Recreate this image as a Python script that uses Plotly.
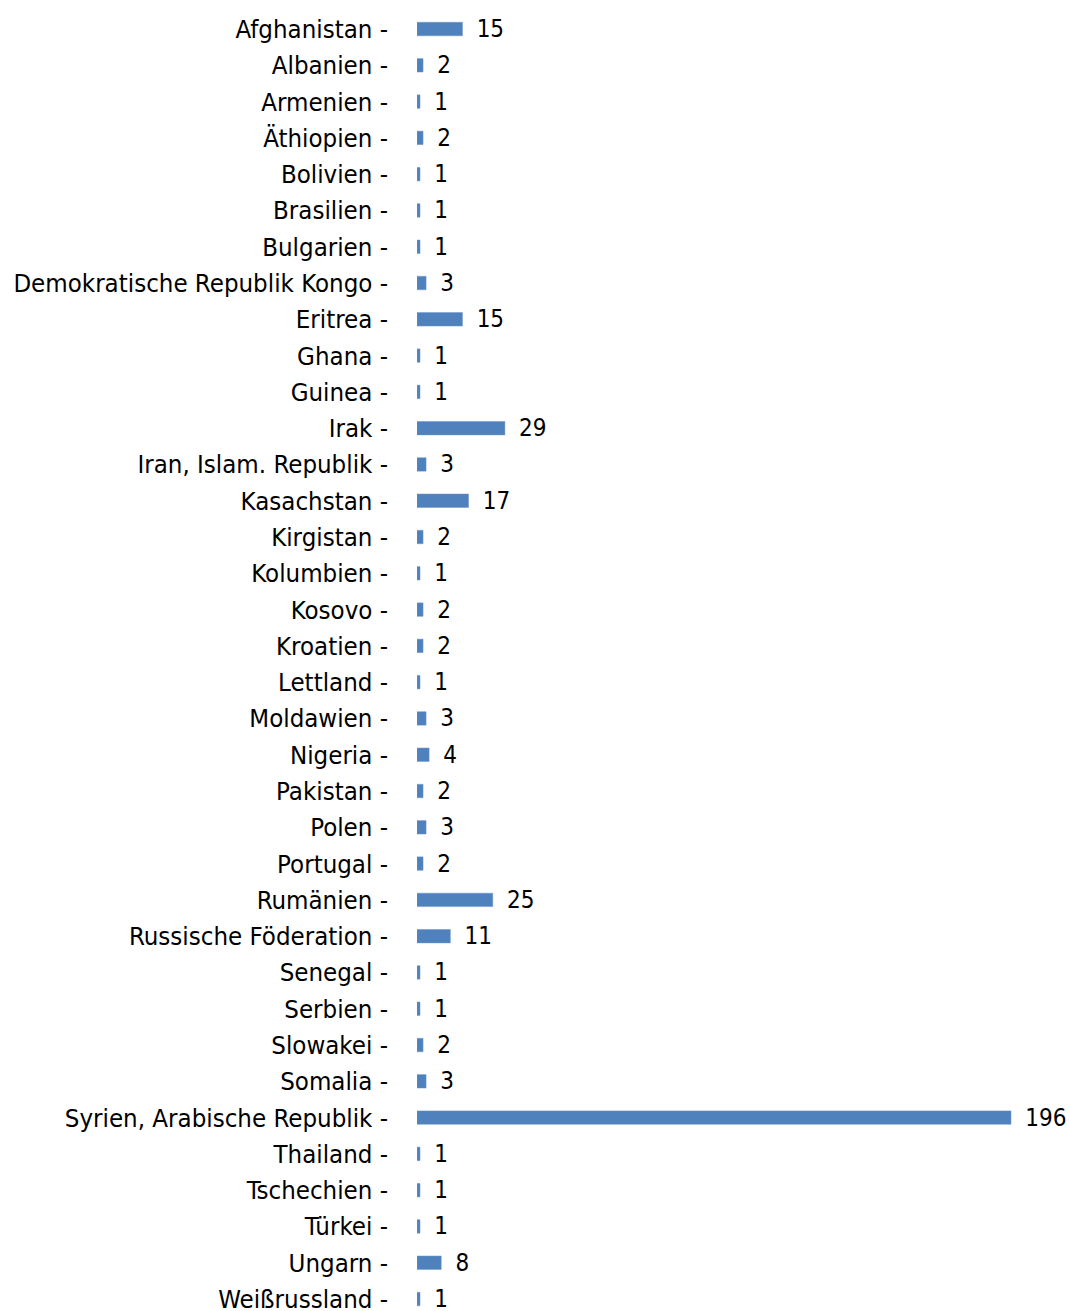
import plotly.graph_objects as go

categories = [
    "Afghanistan", "Albanien", "Armenien", "Äthiopien", "Bolivien", "Brasilien",
    "Bulgarien", "Demokratische Republik Kongo", "Eritrea", "Ghana", "Guinea",
    "Irak", "Iran, Islam. Republik", "Kasachstan", "Kirgistan", "Kolumbien",
    "Kosovo", "Kroatien", "Lettland", "Moldawien", "Nigeria", "Pakistan",
    "Polen", "Portugal", "Rumänien", "Russische Föderation", "Senegal",
    "Serbien", "Slowakei", "Somalia", "Syrien, Arabische Republik", "Thailand",
    "Tschechien", "Türkei", "Ungarn", "Weißrussland",
]
values = [15, 2, 1, 2, 1, 1, 1, 3, 15, 1, 1, 29, 3, 17, 2, 1, 2, 2, 1, 3, 4, 2,
          3, 2, 25, 11, 1, 1, 2, 3, 196, 1, 1, 1, 8, 1]

FONT = "DejaVu Sans Condensed, sans-serif"

fig = go.Figure(go.Bar(
    x=values,
    y=categories,
    orientation="h",
    width=0.37,
    marker=dict(color="#4F81BD", line=dict(color="#6A95C8", width=0.5)),
    text=values,
    texttemplate="\u00a0\u2009%{x}",
    textposition="outside",
    constraintext="none",
    cliponaxis=False,
    textfont=dict(family=FONT, size=24, color="#000000"),
))

fig.update_layout(
    width=1070,
    height=1311,
    margin=dict(l=417, r=0, t=0, b=0),
    paper_bgcolor="white",
    plot_bgcolor="white",
    showlegend=False,
    xaxis=dict(
        range=[0, 215.47],
        visible=False,
        showgrid=False,
        zeroline=False,
    ),
    yaxis=dict(
        type="category",
        range=[35.33, -0.80],
        showgrid=False,
        zeroline=False,
        showline=False,
        ticks="",
        ticksuffix=" -",
        ticklabelstandoff=28,
        tickfont=dict(family=FONT, size=25.6, color="#000000"),
        automargin=False,
    ),
)

fig.write_html("out.html")
